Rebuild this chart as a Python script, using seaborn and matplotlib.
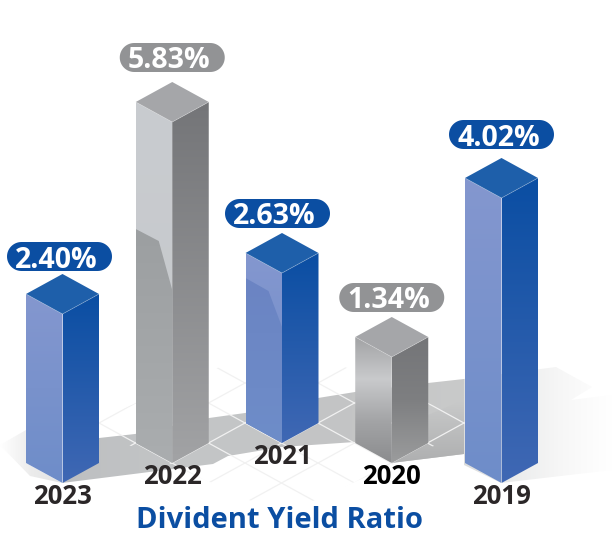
import numpy as np
import pandas as pd
import seaborn as sns
import matplotlib
matplotlib.use('Agg')
import matplotlib.pyplot as plt
from matplotlib.colors import LinearSegmentedColormap
from matplotlib.patches import Polygon
from matplotlib.transforms import IdentityTransform

years = ['2023', '2022', '2021', '2020', '2019']
yields = [2.40, 5.83, 2.63, 1.34, 4.02]
# the picture is not to scale, so the drawn heights are read off it separately
drawn_heights = [169, 341, 170, 106, 285]
baselines = [51, 71, 91, 71, 51]
label_gaps = [3, 10, 5, 5, 9]
pill_shifts = [-3, 0, -4.5, 0, 0]
is_blue = [True, False, True, False, True]
title = 'Divident Yield Ratio'

BLUE = '#0b4ea2'
GREY = '#929395'
DEPTH = 20

plt.rcParams['font.family'] = ['Open Sans', 'DejaVu Sans']


def gradient(ax, points, colors, horizontal=False, zorder=2):
    # fill a polygon with a linear gradient, clipped to the polygon
    pts = np.array(points)
    cmap = LinearSegmentedColormap.from_list('g', colors)
    ramp = np.linspace(0, 1, 256)
    ramp = ramp.reshape(1, -1) if horizontal else ramp.reshape(-1, 1)
    low, high = pts[:, 1].min(), pts[:, 1].max()
    # first colour always goes at the visual top
    bottom, top = (low, high) if ax.get_ylim()[0] < ax.get_ylim()[1] else (high, low)
    im = ax.imshow(ramp, cmap=cmap, extent=[pts[:, 0].min(), pts[:, 0].max(), bottom, top],
                   origin='upper', aspect='auto', zorder=zorder, interpolation='bilinear')
    im.set_clip_path(Polygon(points, closed=True, transform=ax.transData))
    return im


def pill_points(cx, cy, half_width, radius):
    # stadium outline in pixels
    angles = np.linspace(-np.pi / 2, np.pi / 2, 30)
    right = np.column_stack([cx + half_width + radius * np.cos(angles), cy + radius * np.sin(angles)])
    left = np.column_stack([cx - half_width - radius * np.cos(angles), cy - radius * np.sin(angles)])
    return np.vstack([right, left])


fig = plt.figure(figsize=(6.12, 5.34), dpi=100)

# floor layer, in picture pixels
floor = fig.add_axes([0, 0, 1, 1])
floor.set_xlim(0, 612)
floor.set_ylim(534, 0)
floor.axis('off')

# soft glow left of the first bar
gradient(floor, [(0, 445), (26, 430), (26, 463), (62, 483), (30, 476)], ['#ffffff', '#ececec', '#e2e3e3'], horizontal=True, zorder=1)

# cast shadow running behind the bars
shadow = [(62, 483), (213, 464), (228, 456), (282, 447), (355, 442), (391, 463), (464, 454),
          (464, 379), (428, 383), (355, 392), (318, 398), (245, 413), (209, 418), (135, 434), (99, 438)]
gradient(floor, shadow, ['#bdbfc1', '#c4c6c7', '#c3c4c5', '#c9caca'], horizontal=True, zorder=2)
gradient(floor, [(391, 463), (428, 415), (464, 400), (464, 454)], ['#c9caca', '#aeafb0'], zorder=2)
far = [(501, 483), (612, 470), (612, 395), (571, 400), (592, 387), (556, 367), (464, 379), (464, 465)]
gradient(floor, far, ['#dcdddd', '#ebecec', '#f7f7f7', '#ffffff'], horizontal=True, zorder=2)

# faint isometric floor grid
diamond = Polygon([(282, 340), (480, 425), (282, 515), (85, 425)], closed=True,
                  transform=floor.transData)
for k in range(-8, 9):
    xs = np.array([0, 612])
    for sign in (1, -1):
        line, = floor.plot(xs, 463 + k * 40 + sign * 0.548 * (xs - 245), color='#f1f1f1', lw=0.9, zorder=3)
        line.set_clip_path(diamond)

# bars
ax = fig.add_axes([0, 0, 1, 1], facecolor='none')
data = pd.DataFrame({'year': years, 'height': drawn_heights})
sns.barplot(data=data, x='year', y='height', order=years, width=73 / 109.75, ax=ax)
ax.set_xlim(-62.5 / 109.75, (612 - 62.5) / 109.75)
ax.set_ylim(0, 534)
ax.set_autoscale_on(False)
ax.axis('off')

blue_faces = (['#8497cf', '#6e8dc9'], ['#0a4ea3', '#4068b4'], '#1e5faa')
grey_faces = (['#c9ccd0', '#c6c8cb'], ['#747578', '#a2a3a5'], '#a5a6a9')
short_faces = (['#a2a3a5', '#c9cacc', '#a3a4a6', '#8b8c8e'], ['#747578', '#7e7f81', '#9b9c9d'], '#a5a6a9')

for i, bar in enumerate(ax.patches):
    bar.set_y(baselines[i])
    bar.set_visible(False)
    x0, x1 = bar.get_x(), bar.get_x() + bar.get_width()
    xc = (x0 + x1) / 2
    base, top = baselines[i], baselines[i] + drawn_heights[i]
    left_face = [(x0, base + DEPTH), (xc, base), (xc, top), (x0, top + DEPTH)]
    right_face = [(xc, base), (x1, base + DEPTH), (x1, top + DEPTH), (xc, top)]
    top_face = [(x0, top + DEPTH), (xc, top), (x1, top + DEPTH), (xc, top + 2 * DEPTH)]

    faces = blue_faces if is_blue[i] else (short_faces if years[i] == '2020' else grey_faces)
    gradient(ax, left_face, faces[0], zorder=3)
    gradient(ax, right_face, faces[1], zorder=3)
    ax.add_patch(Polygon(top_face, closed=True, facecolor=faces[2], edgecolor='none', zorder=4))
    ax.plot([x0, xc, x1], [top + DEPTH, top, top + DEPTH], color='#ffffff', alpha=0.25, lw=0.6, zorder=5)

    # shaded lower part of the lit face on the two taller middle bars
    if years[i] == '2022':
        shade = [(x0, base + DEPTH), (xc, base), (xc, 534 - 290), (x0 + 23 / 109.75, 534 - 241), (x0, 534 - 229)]
        gradient(ax, shade, ['#9c9fa1', '#aaadaf'], zorder=3.5)
    if years[i] == '2021':
        shade = [(x0, base + DEPTH), (xc, base), (xc, 534 - 327), (x0 + 23 / 109.75, 534 - 291), (x0, 534 - 278)]
        gradient(ax, shade, ['#6b84c3', '#6e8dc9'], zorder=3.5)

    # value pill, sized in pixels
    cx, cy = ax.transData.transform((xc, top + 2 * DEPTH + label_gaps[i] + 14.5))
    cx += pill_shifts[i]
    color = BLUE if is_blue[i] else GREY
    ax.add_patch(Polygon(pill_points(cx, cy, 38, 14.5), closed=True, facecolor=color, edgecolor='none',
                         transform=IdentityTransform(), zorder=6, clip_on=False))
    ax.annotate(f'{yields[i]:.2f}%', (cx - 3, cy), xycoords='figure pixels', ha='center', va='center_baseline',
                color='white', fontsize=20.5, fontweight='bold', zorder=7)

    # year under the bar
    ax.text(xc, base - 13, years[i], ha='center', va='center', fontsize=18.5, fontweight='bold',
            color='#000000' if years[i] == '2020' else '#2b2728', zorder=7)

ax.text(1 + 107.5 / 109.75, 534 - 520.5, title, ha='center', va='center', fontsize=21,
        fontweight='bold', color=BLUE, zorder=7)

fig.savefig('out.png', dpi=100, facecolor='white')
